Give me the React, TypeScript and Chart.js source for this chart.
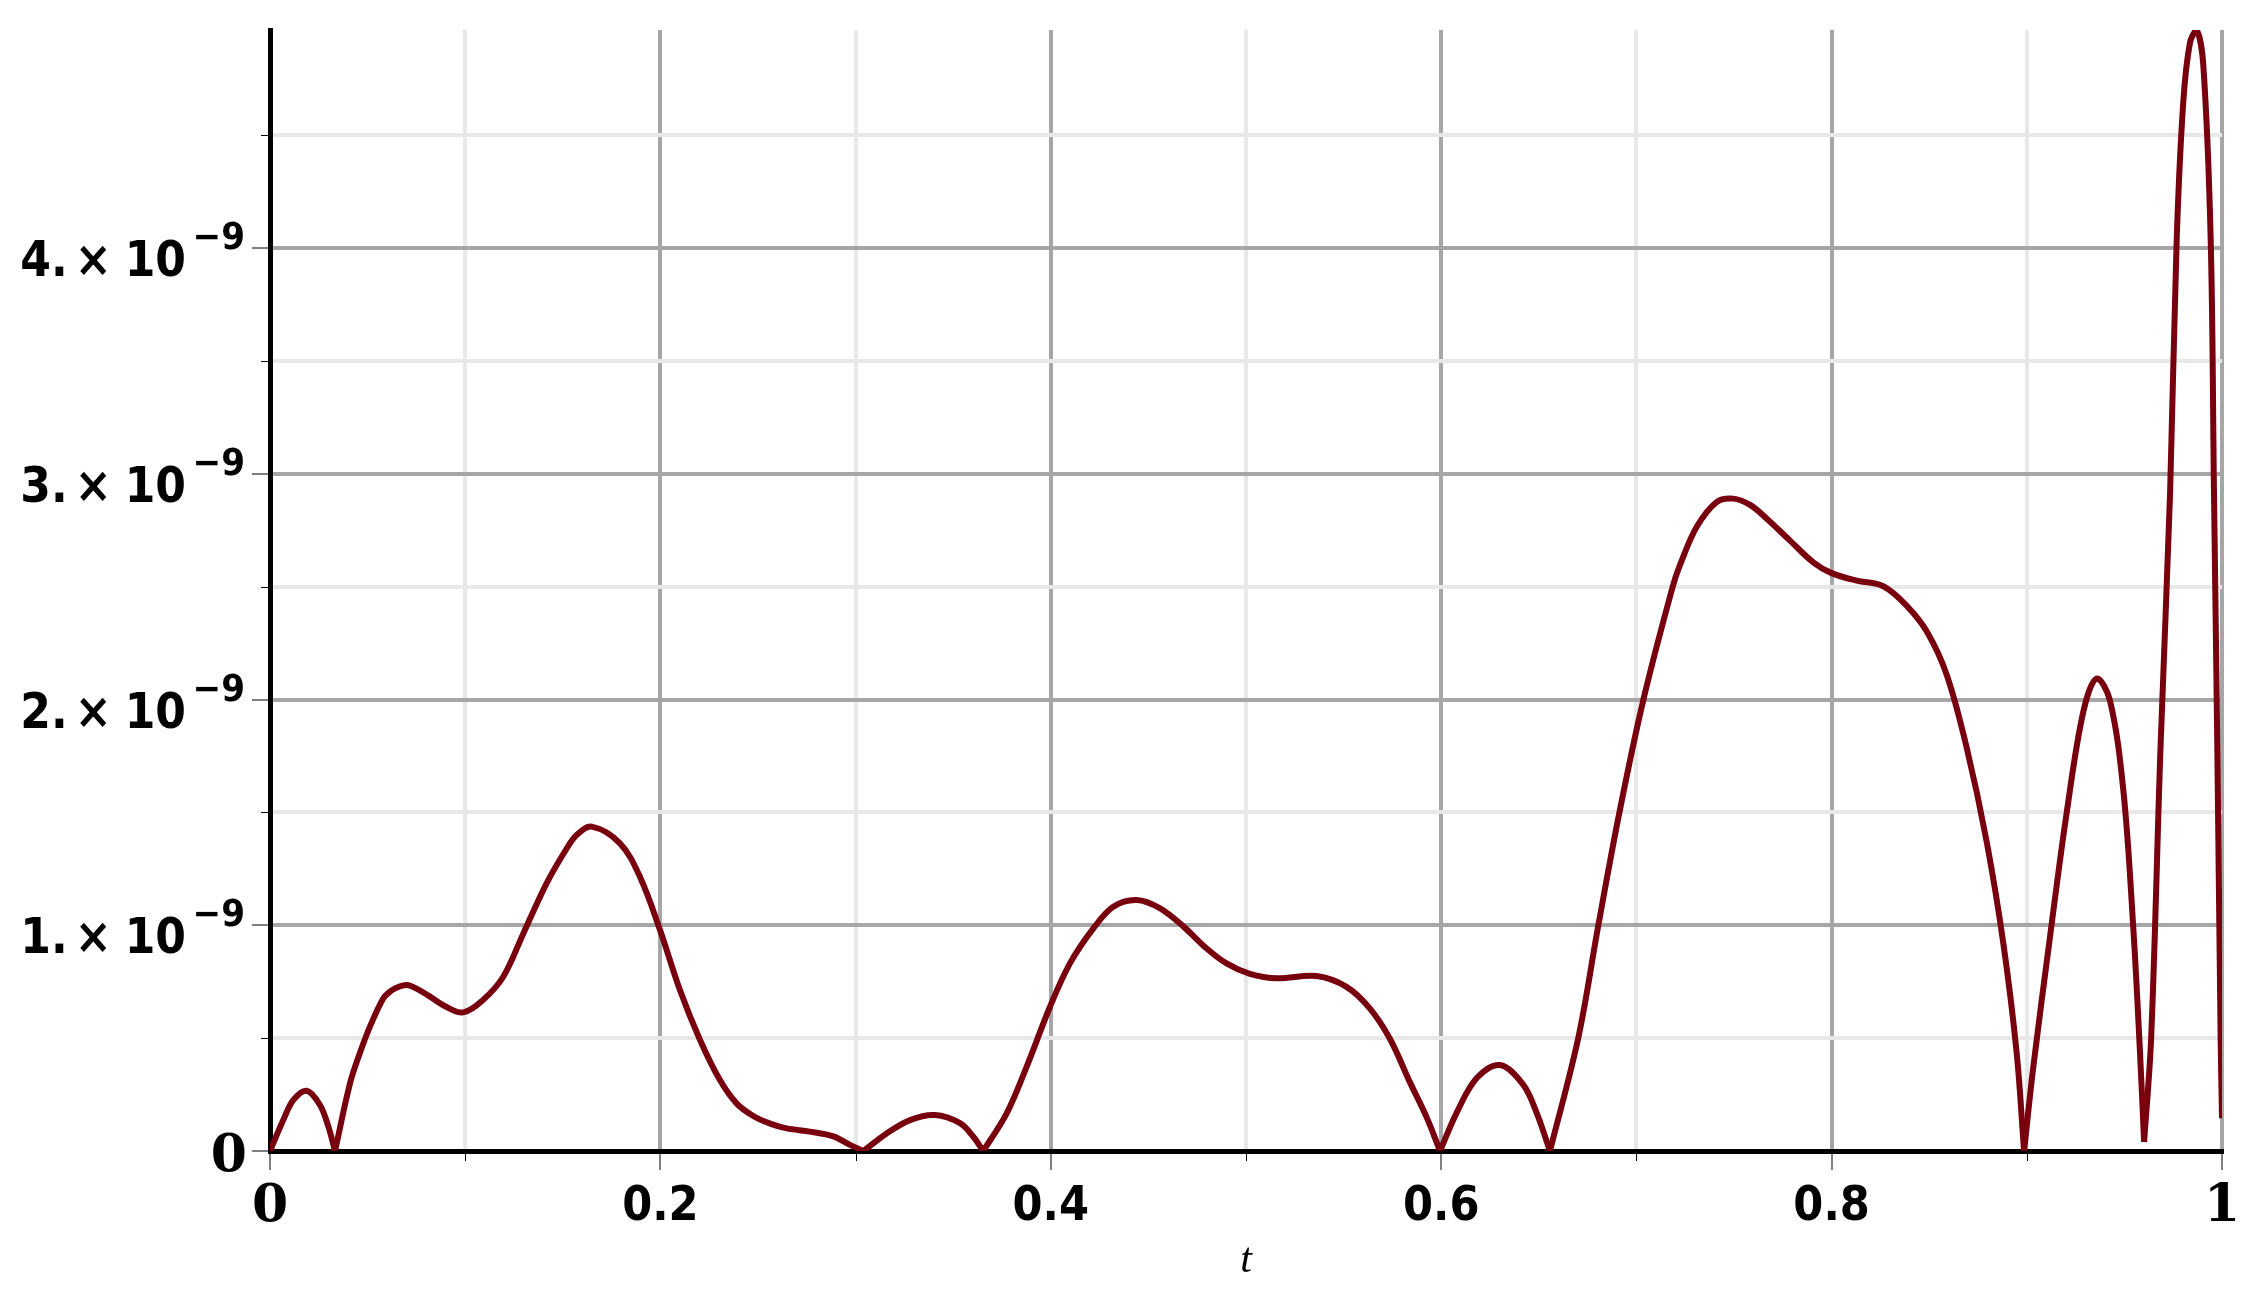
import React, { useEffect, useRef } from 'react';
import { Chart, registerables } from 'chart.js';

Chart.register(...registerables);

// ---- data (t values and |f(t)| in units of 1e-9) ----
const T_VALUES = [
  0, 0.0068, 0.012, 0.0188, 0.0256, 0.0299, 0.0333,
  0.041, 0.046, 0.0512, 0.058, 0.0615, 0.064, 0.07, 0.076, 0.082, 0.09, 0.099, 0.109, 0.1195, 0.1298,
  0.1417, 0.152, 0.1571, 0.1648, 0.1793, 0.1895, 0.1998, 0.21, 0.2203, 0.2305, 0.239, 0.2476, 0.2566,
  0.2647, 0.2766, 0.2886, 0.2971, 0.304,
  0.3159, 0.3279, 0.3406, 0.3535, 0.3603, 0.3654,
  0.3774, 0.3876, 0.3996, 0.4098, 0.4218, 0.432, 0.444, 0.456, 0.468, 0.4797, 0.49, 0.502,
  0.5157, 0.5362, 0.5515, 0.5635, 0.5738, 0.584, 0.5925, 0.5994,
  0.6079, 0.6182, 0.6301, 0.642, 0.6489, 0.6557,
  0.6702, 0.6805, 0.6913, 0.7036, 0.7186, 0.7223, 0.7309, 0.7411, 0.7496, 0.7582,
  0.7668, 0.7787, 0.7906, 0.8, 0.8128, 0.8265, 0.8385, 0.8487, 0.859, 0.8692, 0.8795, 0.888,
  0.8948, 0.8986,
  0.9033, 0.9119, 0.9204, 0.929, 0.9358, 0.9426, 0.9495, 0.9546, 0.958, 0.9601,
  0.9637, 0.9685, 0.9734, 0.9768, 0.9802, 0.9836, 0.987, 0.9904, 0.9942, 0.9959, 0.9976, 0.9993, 1.0,
];

const F_VALUES = [
  0, 0.137, 0.226, 0.267, 0.204, 0.108, 0,
  0.3, 0.433, 0.551, 0.676, 0.706, 0.72, 0.735, 0.715, 0.684, 0.64, 0.614, 0.668, 0.772, 0.964,
  1.186, 1.34, 1.4, 1.437, 1.363, 1.215, 0.979, 0.713, 0.492, 0.314, 0.211, 0.155, 0.12,
  0.1, 0.086, 0.065, 0.027, 0,
  0.078, 0.137, 0.159, 0.123, 0.063, 0,
  0.167, 0.373, 0.639, 0.831, 0.986, 1.082, 1.112, 1.075, 0.994, 0.898, 0.831, 0.785,
  0.765, 0.775, 0.727, 0.631, 0.496, 0.304, 0.15, 0,
  0.169, 0.323, 0.381, 0.294, 0.169, 0,
  0.5, 1.0, 1.5, 2.0, 2.5, 2.595, 2.765, 2.875, 2.89, 2.862,
  2.801, 2.704, 2.608, 2.56, 2.527, 2.502, 2.415, 2.302, 2.109, 1.787, 1.368, 0.918,
  0.435, 0,
  0.37, 0.95, 1.497, 1.948, 2.093, 1.996, 1.594, 0.982, 0.435, 0.04,
  0.5, 1.787, 2.914, 4.04, 4.652, 4.91, 4.966, 4.813, 4.04, 2.914, 1.787, 0.5, 0.145,
];

// t positions where |f| touches its minimum (curve has a corner there)
const CUSP_T = [0.0333, 0.304, 0.3654, 0.5994, 0.6557, 0.8986, 0.9601];

const Y_UNIT = 1e-9;
const X_TICK_LABELS = ['0', '0.2', '0.4', '0.6', '0.8', '1'];
const Y_TICK_MANTISSAS = ['0', '1.', '2.', '3.', '4.'];
const Y_TICK_TIMES = '\u00d7';
const Y_TICK_BASE = '10';
const Y_TICK_EXPONENT = '\u22129';
const X_TITLE = 't';

const CURVE_COLOR = '#78000E';
const MAJOR_GRID = '#a6a6a6';
const MINOR_GRID = '#e8e8e8';
const SERIF_BOLD = '"DejaVu Serif", "Liberation Serif", serif';
const SANS_COND = '"DejaVu Sans Condensed", "DejaVu Sans", sans-serif';

function buildSegments() {
  const segs: { x: number; y: number }[][] = [];
  let cur: { x: number; y: number }[] = [];
  for (let i = 0; i < T_VALUES.length; i++) {
    const p = { x: T_VALUES[i], y: F_VALUES[i] * Y_UNIT };
    cur.push(p);
    if (CUSP_T.includes(T_VALUES[i]) && cur.length > 1) {
      segs.push(cur);
      cur = [p];
    }
  }
  if (cur.length > 1) segs.push(cur);
  return segs;
}

const maplePlugin = {
  id: 'mapleAxes',
  afterDraw(chart: any) {
    const ctx = chart.ctx as CanvasRenderingContext2D;
    const xs = chart.scales.x;
    const ys = chart.scales.y;
    const area = chart.chartArea;
    ctx.save();
    // minor tick marks
    ctx.strokeStyle = '#000';
    ctx.lineWidth = 1;
    ctx.beginPath();
    xs.ticks.forEach((tk: any, i: number) => {
      if (i % 2 === 1) {
        const px = Math.round(xs.getPixelForValue(tk.value)) + 0.5;
        ctx.moveTo(px, area.bottom + 2);
        ctx.lineTo(px, area.bottom + 10);
      }
    });
    ys.ticks.forEach((tk: any, i: number) => {
      if (i % 2 === 1) {
        const py = Math.round(ys.getPixelForValue(tk.value)) + 0.5;
        ctx.moveTo(area.left - 9, py);
        ctx.lineTo(area.left - 2, py);
      }
    });
    ctx.stroke();
    // y tick labels with exponent
    ctx.fillStyle = '#000';
    ctx.textAlign = 'right';
    ctx.textBaseline = 'alphabetic';
    ys.ticks.forEach((tk: any, i: number) => {
      if (i % 2 !== 0) return;
      const m = Y_TICK_MANTISSAS[i / 2];
      if (m === undefined) return;
      const gy = ys.getPixelForValue(tk.value);
      if (m === '0') {
        ctx.font = 'bold 52px ' + SERIF_BOLD;
        ctx.fillText('0', area.left - 23, gy + 20);
      } else {
        ctx.font = 'bold 38px ' + SANS_COND;
        ctx.fillText(Y_TICK_EXPONENT, area.left - 25, gy + 1);
        ctx.font = 'bold 49px ' + SANS_COND;
        let r = area.left - 84;
        const by = gy + 28;
        ctx.fillText(Y_TICK_BASE, r, by);
        r -= ctx.measureText(Y_TICK_BASE).width + 13;
        ctx.fillText(Y_TICK_TIMES, r, by);
        r -= ctx.measureText(Y_TICK_TIMES).width + 7;
        ctx.fillText(m, r, by);
      }
    });
    ctx.restore();
  },
};

export default function App() {
  const ref = useRef<HTMLCanvasElement>(null);
  useEffect(() => {
    document.body.style.margin = '0';
    document.body.style.overflow = 'hidden';
    const segs = buildSegments();
    const yMax = Math.max(...F_VALUES) * Y_UNIT;
    const isMajorX = (v: number) => Math.round(v * 10) % 2 === 0;
    const isMajorY = (v: number) => Math.round(v / (0.5 * Y_UNIT)) % 2 === 0;
    const chart = new Chart(ref.current as HTMLCanvasElement, {
      type: 'line',
      data: {
        datasets: segs.map((s) => ({
          data: s,
          borderColor: CURVE_COLOR,
          borderWidth: 6,
          pointRadius: 0,
          tension: 0.35,
          fill: false,
        })),
      },
      options: {
        responsive: false,
        animation: false,
        devicePixelRatio: 1,
        layout: { padding: { top: 30, right: 35, left: 0, bottom: 0 } },
        plugins: { legend: { display: false }, tooltip: { enabled: false } },
        scales: {
          x: {
            type: 'linear',
            min: 0,
            max: 1,
            afterFit: (scale: any) => {
              scale.height = 155;
            },
            border: { display: true, color: '#000', width: 5 },
            grid: {
              color: (c: any) => (c.tick && isMajorX(c.tick.value) ? MAJOR_GRID : MINOR_GRID),
              lineWidth: 4,
              tickLength: 19,
              tickWidth: 1,
              tickColor: (c: any) => (c.tick && isMajorX(c.tick.value) ? '#000' : 'rgba(0,0,0,0)'),
            },
            ticks: {
              stepSize: 0.1,
              autoSkip: false,
              maxRotation: 0,
              padding: 9,
              color: '#000',
              font: (c: any) => {
                const v = c.tick ? c.tick.value : 0.5;
                if (v === 0 || v === 1) {
                  return { family: SERIF_BOLD, size: 52, weight: 'bold', lineHeight: 1.108 };
                }
                return { family: SANS_COND, size: 48, weight: 'bold', lineHeight: 1.2 };
              },
              callback: (_v: any, index: number) => (index % 2 === 0 ? X_TICK_LABELS[index / 2] : ''),
            },
            title: {
              display: true,
              text: X_TITLE,
              color: '#000',
              font: { family: '"Liberation Serif", "Times New Roman", serif', style: 'italic', size: 42, lineHeight: 1.2 },
              padding: { top: 0, bottom: 20 },
            },
          },
          y: {
            type: 'linear',
            min: 0,
            max: yMax,
            afterFit: (scale: any) => {
              scale.width = 270;
            },
            border: { display: true, color: '#000', width: 5 },
            grid: {
              color: (c: any) => (c.tick && isMajorY(c.tick.value) ? MAJOR_GRID : MINOR_GRID),
              lineWidth: 4,
              tickLength: 18,
              tickWidth: 1,
              tickColor: (c: any) => (c.tick && isMajorY(c.tick.value) ? '#000' : 'rgba(0,0,0,0)'),
            },
            ticks: {
              stepSize: 0.5 * Y_UNIT,
              includeBounds: false,
              autoSkip: false,
              display: false,
            },
          },
        },
      } as any,
      plugins: [maplePlugin],
    });
    return () => chart.destroy();
  }, []);
  return (
    <div style={{ width: 2257, height: 1306, background: '#fff' }}>
      <canvas ref={ref} width={2257} height={1306} />
    </div>
  );
}
